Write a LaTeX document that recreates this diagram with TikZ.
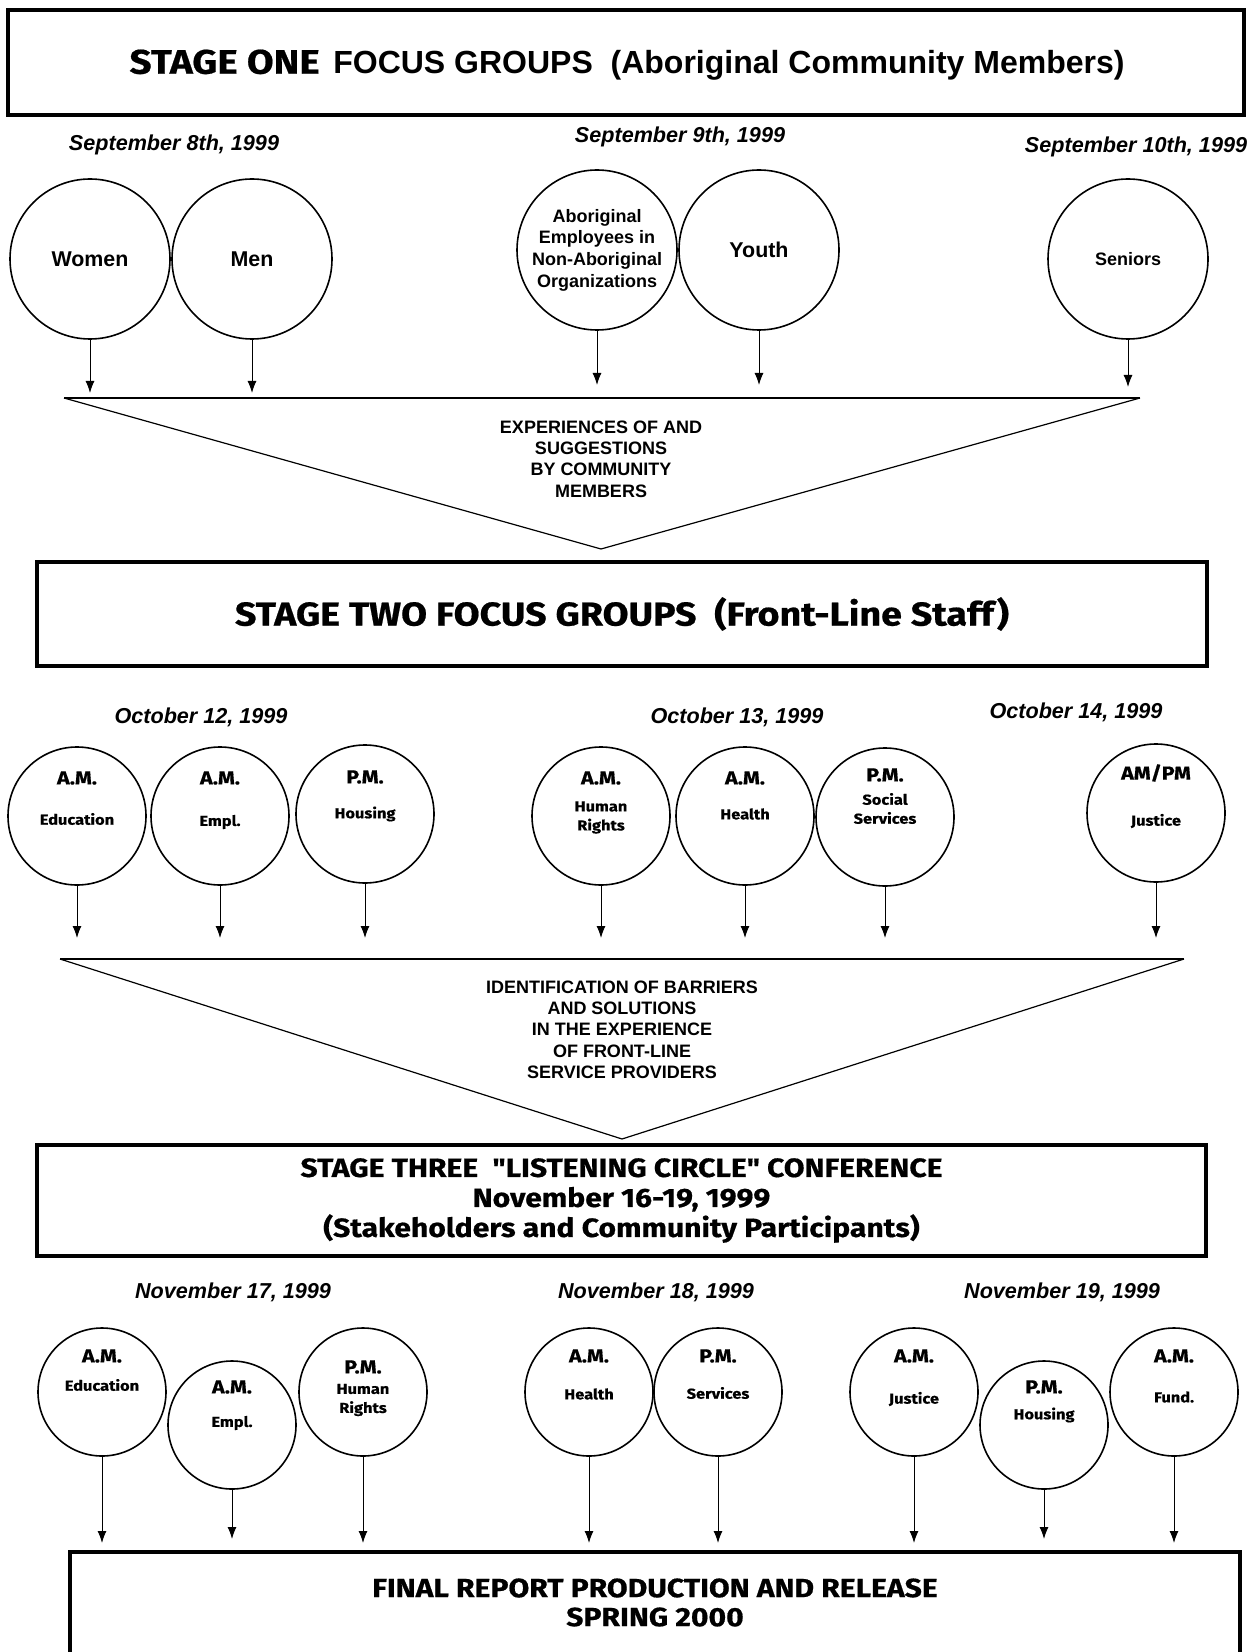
\documentclass[tikz,border=0pt]{standalone}
\usepackage{fontspec}
\setmainfont{Liberation Sans}
\newfontfamily\heavy{Fira Sans}[FakeStretch=1.14,FakeBold=0.6]
\usetikzlibrary{arrows.meta}

\begin{document}
\begin{tikzpicture}[x=0.5pt,y=-0.5pt,inner sep=0pt,
  box/.style={draw,line width=1.6pt,minimum width=#1},
  ring/.style={draw,circle,line width=0.8pt,minimum size=#1},
  day/.style={font=\fontsize{10.8}{13}\selectfont\bfseries\itshape},
  tag/.style={font=\heavy\bfseries\fontsize{9.4}{11}\selectfont},
  topic/.style={font=\heavy\bfseries\fontsize{7.2}{9.5}\selectfont,align=center},
  note/.style={font=\fontsize{9}{10.65}\selectfont\bfseries,align=center},
  arr/.style={-{Latex[length=6pt,width=4.5pt]},line width=0.5pt}]
\def\u{0.5pt}
\useasboundingbox (0,0) rectangle (1250,1652);

\node[box=1236*\u,minimum height=105*\u] (s1) at (626,62.5) {};
\node (s1t) at (627,65)
  {{\heavy\bfseries\fontsize{17}{20}\selectfont STAGE ONE}\hspace{4pt} {\fontsize{16}{19}\selectfont\bfseries FOCUS GROUPS\ \ (Aboriginal Community Members)}};

\node[day] (d8) at (174,145) {September 8th, 1999};
\node[day] (d9) at (680,137) {September 9th, 1999};
\node[day] (d10) at (1136,147) {September 10th, 1999};

\node[ring=160*\u,font=\fontsize{10.7}{13}\selectfont\bfseries] (wo) at (90,259) {Women};
\node[ring=160*\u,font=\fontsize{10.7}{13}\selectfont\bfseries] (me) at (252,259) {Men};
\node[ring=160*\u,font=\fontsize{9}{10.8}\selectfont\bfseries,align=center] (ab) at (597,250)
  {Aboriginal\\Employees in\\Non-Aboriginal\\Organizations};
\node[ring=160*\u,font=\fontsize{10.7}{13}\selectfont\bfseries] (yo) at (759,250) {Youth};
\node[ring=160*\u,font=\fontsize{9}{11}\selectfont\bfseries] (se) at (1128,259) {Seniors};

\foreach \n/\y in {wo/393,me/393,ab/385,yo/385,se/387}{
  \coordinate (\n-end) at (\n |- 0,\y);
  \draw[arr] (\n) -- (\n-end);
}

\draw[line width=0.6pt] (64,398) -- (601,549) -- (1140,398);
\draw[line width=1.2pt] (64,398) -- (1140,398);
\node[note] (ex) at (601,459) {EXPERIENCES OF AND\\SUGGESTIONS\\BY COMMUNITY\\MEMBERS};

\node[box=1170*\u,minimum height=104*\u,font=\heavy\bfseries\fontsize{16.5}{19}\selectfont] (s2) at (622,614)
  {STAGE TWO FOCUS GROUPS\ \ (Front-Line Staff)};

\node[day] (o12) at (201,717) {October 12, 1999};
\node[day] (o13) at (737,717) {October 13, 1999};
\node[day] (o14) at (1076,712) {October 14, 1999};

\foreach \n/\x/\y/\t/\ty/\s/\sy in {ed2/77/816/A.M./778/Education/819,
    em2/220/816/A.M./778/Empl./822, ho2/365/814/P.M./777/Housing/814,
    hr2/601/816/A.M./778/{Human\\Rights}/817.5, he2/745/816/A.M./778/Health/814,
    ss2/885/817/P.M./775/{Social\\Services}/808.5, ju2/1156/813/{AM/PM}/773/Justice/821}{
  \node[ring=138*\u] (\n) at (\x,\y) {};
  \node[tag] (\n-t) at (\x,\ty) {\t};
  \node[topic] (\n-s) at (\x,\sy) {\s};
  \coordinate (\n-end) at (\x,938);
  \draw[arr] (\n) -- (\n-end);
}

\draw[line width=0.6pt] (60,959) -- (622,1139) -- (1184,959);
\draw[line width=1.2pt] (60,959) -- (1184,959);
\node[note] (id) at (622,1029.5)
  {IDENTIFICATION OF BARRIERS\\AND SOLUTIONS\\IN THE EXPERIENCE\\OF FRONT-LINE\\SERVICE PROVIDERS};

\node[box=1169*\u,minimum height=111*\u,font=\heavy\bfseries\fontsize{13.2}{15}\selectfont,align=center] (s3) at (621.5,1200.5)
  {STAGE THREE\ \ "LISTENING CIRCLE" CONFERENCE\\November 16-19, 1999\\(Stakeholders and Community Participants)};

\node[day] (n17) at (233,1292) {November 17, 1999};
\node[day] (n18) at (656,1292) {November 18, 1999};
\node[day] (n19) at (1062,1292) {November 19, 1999};

\foreach \n/\x/\y/\t/\ty/\s/\sy/\e in {ed3/102/1392/A.M./1356/Education/1385/1543,
    em3/232/1425/A.M./1387/Empl./1423/1539, hr3/363/1392/P.M./1367/{Human\\Rights}/1400/1543,
    he3/589/1392/A.M./1356/Health/1394/1543, sv3/718/1392/P.M./1356/Services/1393/1543,
    ju3/914/1392/A.M./1356/Justice/1399/1543, ho3/1044/1425/P.M./1387/Housing/1415/1539,
    fu3/1174/1392/A.M./1356/Fund./1397/1543}{
  \node[ring=128*\u] (\n) at (\x,\y) {};
  \node[tag] (\n-t) at (\x,\ty) {\t};
  \node[topic] (\n-s) at (\x,\sy) {\s};
  \coordinate (\n-end) at (\x,\e);
  \draw[arr] (\n) -- (\n-end);
}

\node[box=1170*\u,minimum height=150*\u] (fin) at (655,1627) {};
\node[font=\heavy\bfseries\fontsize{13.2}{14.5}\selectfont,align=center] (fint) at (655,1602.5)
  {FINAL REPORT PRODUCTION AND RELEASE\\SPRING 2000};
\end{tikzpicture}
\end{document}
